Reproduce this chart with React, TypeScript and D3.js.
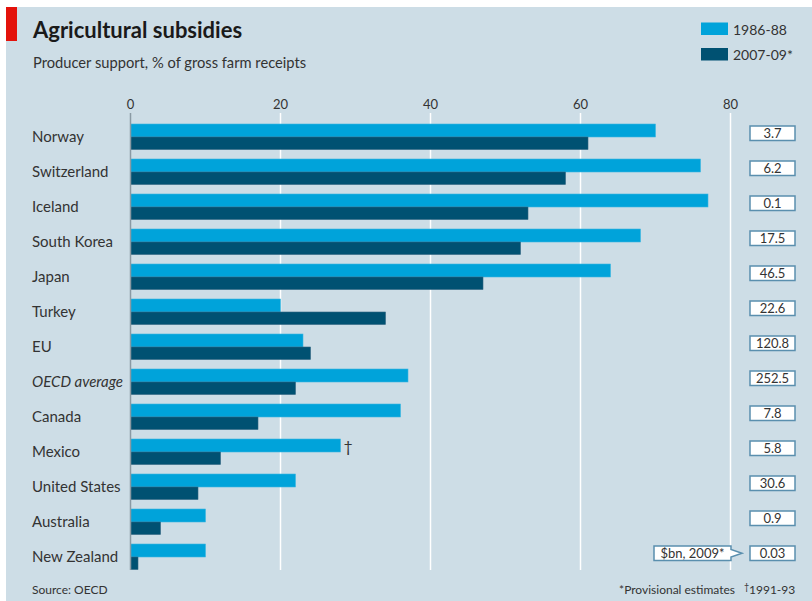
import React from "react";
import * as d3 from "d3";

const categories = ["Norway", "Switzerland", "Iceland", "South Korea", "Japan", "Turkey", "EU", "OECD average", "Canada", "Mexico", "United States", "Australia", "New Zealand"];
const values1986 = [70, 76, 77, 68, 64, 20, 23, 37, 36, 28, 22, 10, 10];
const values2007 = [61, 58, 53, 52, 47, 34, 24, 22, 17, 12, 9, 4, 1];
const dollarsBn = ["3.7", "6.2", "0.1", "17.5", "46.5", "22.6", "120.8", "252.5", "7.8", "5.8", "30.6", "0.9", "0.03"];
const ticks = [0, 20, 40, 60, 80];
const seriesNames = ["1986-88", "2007-09*"];

const LIGHT = "#00a3da";
const DARK = "#005172";
const BG = "#cddde6";
const FONT = "Lato, 'Open Sans', sans-serif";

export default function App() {
  const W = 812, H = 601;
  const x = d3.scaleLinear().domain([0, 80]).range([130.5, 730.5]);
  const y = d3.scaleBand<string>().domain(categories).range([124, 124 + 35 * categories.length]).padding(0);
  const lightH = 13, darkH = 12.5;

  return (
    <svg width={W} height={H} style={{ position: "absolute", left: 0, top: 0 }} fontFamily={FONT}>
      <rect x={0} y={0} width={W} height={H} fill="#ffffff" />
      <rect x={6} y={7} width={W - 6} height={H - 7} fill={BG} />
      <rect x={6} y={7} width={11} height={34} fill="#e3120b" />
      <text x={33} y={37.5} fontSize={22} fontWeight={700} fill="#1a1a1a">Agricultural subsidies</text>
      <text x={33} y={68} fontSize={14.7} fill="#333">Producer support, % of gross farm receipts</text>

      {/* legend */}
      <rect x={701} y={22.5} width={27} height={12.5} fill={LIGHT} />
      <rect x={701} y={48} width={27} height={12.5} fill={DARK} />
      <text x={733} y={34.5} fontSize={14} fill="#333">{seriesNames[0]}</text>
      <text x={733} y={60} fontSize={14} fill="#333">{seriesNames[1]}</text>

      {/* gridlines */}
      {ticks.map((t) => (
        <g key={t}>
          {t !== 0 && <line x1={x(t)} x2={x(t)} y1={113} y2={570} stroke="#ffffff" strokeWidth={1.5} />}
          <text x={x(t)} y={108.5} fontSize={13} fill="#333" textAnchor="middle">{t}</text>
        </g>
      ))}

      {/* bars */}
      {categories.map((c, i) => {
        const top = y(c)!;
        return (
          <g key={c}>
            <rect x={x(0)} y={top} width={x(values1986[i]) - x(0)} height={lightH} fill={LIGHT} stroke="#3cb6e0" strokeWidth={0.6} />
            <rect x={x(0)} y={top + lightH} width={x(values2007[i]) - x(0)} height={darkH} fill={DARK} stroke="#2f6580" strokeWidth={0.6} />
            <text x={32} y={top + 17.5} fontSize={15} fill="#333" fontStyle={c === "OECD average" ? "italic" : "normal"}>{c}</text>
            <rect x={750} y={top + 2} width={45} height={14.5} fill="#ffffff" stroke="#5a8fae" strokeWidth={1.5} />
            <text x={772.5} y={top + 14} fontSize={13} fill="#333" textAnchor="middle">{dollarsBn[i]}</text>
            {c === "Mexico" && (
              <text x={x(values1986[i]) + 3} y={top + 12.5} fontSize={16} fill="#333">†</text>
            )}
          </g>
        );
      })}

      {/* zero axis */}
      <line x1={x(0)} x2={x(0)} y1={113} y2={570} stroke="#8a9aa4" strokeWidth={1.5} />

      {/* callout */}
      <path d="M654,546 H731 V549.5 L742,553.25 L731,557 V560.5 H654 Z" fill="#ffffff" stroke="#5a8fae" strokeWidth={1.5} />
      <text x={692.5} y={558} fontSize={13} fill="#333" textAnchor="middle">$bn, 2009*</text>

      {/* footer */}
      <text x={32} y={594} fontSize={12} fill="#333">Source: OECD</text>
      <text x={735} y={594} fontSize={12} fill="#333" textAnchor="end">*Provisional estimates</text>
      <text x={744} y={590} fontSize={9} fill="#333">†</text>
      <text x={749} y={594} fontSize={12} fill="#333">1991-93</text>
    </svg>
  );
}
